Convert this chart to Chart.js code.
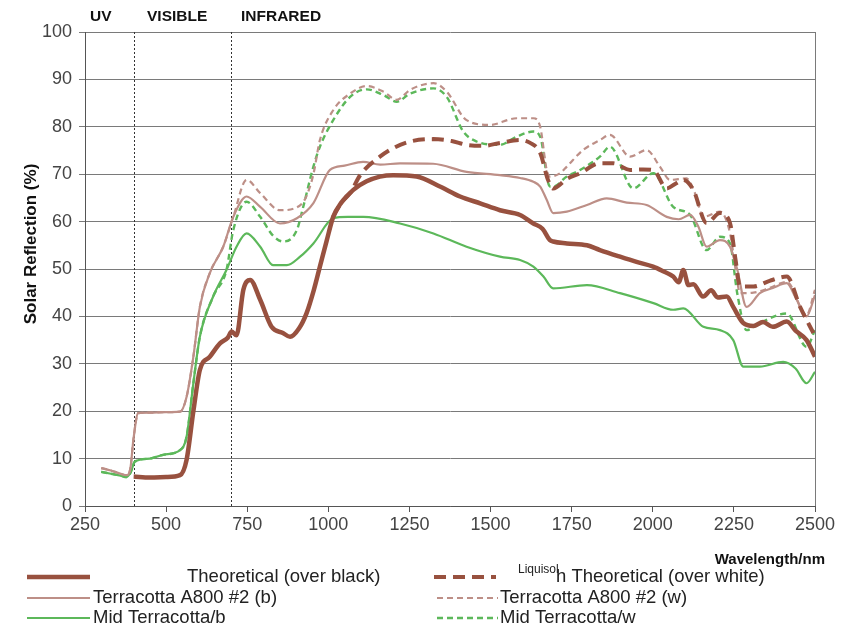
<!DOCTYPE html>
<html lang="en">
<head>
<meta charset="UTF-8">
<title>Solar Reflection</title>
<script src="https://cdn.jsdelivr.net/npm/chart.js"></script>
<style>
  body { margin: 0; background: #fff; }
  #grafico { display: block; }
</style>
</head>
<body>
<canvas id="grafico" width="843" height="628"></canvas>
<script>
// wavelengths (nm) and reflection (%)
const theoBlackX = [400,450,500,543,563,584,604,635,666,690,702,717,738,759,790,825,860,882,910,933,955,974,995,1015,1040,1077,1118,1159,1200,1272,1344,1406,1470,1529,1591,1632,1660,1683,1693,1735,1797,1837,1899,1950,2001,2030,2063,2080,2094,2110,2125,2155,2180,2200,2228,2248,2279,2310,2340,2370,2413,2440,2474,2500];
const theoBlackY = [6.2,6,6.1,6.5,9.7,20,28.7,31.5,34.3,35.5,36.8,36,45.6,47.7,43.5,37.8,36.5,35.7,37.5,40.7,45.5,50.5,56,61,64,66.7,68.5,69.5,69.8,69.5,67.4,65.3,63.8,62.4,61.4,59.6,58.5,56.1,55.8,55.4,55,54,52.6,51.5,50.5,49.6,48.4,47.2,49.8,46.6,46.8,44.2,45.5,44,44.2,42,38.6,38,38.8,37.8,38.9,37,35,31.5];

const theoWhiteX = [1015,1040,1067,1100,1159,1200,1252,1323,1380,1426,1480,1529,1591,1622,1653,1677,1693,1735,1776,1837,1878,1930,1970,2001,2043,2070,2094,2125,2166,2207,2238,2255,2269,2310,2360,2413,2454,2495];
const theoWhiteY = [61,64,66,70,73.7,75.5,76.9,77.4,77,76.2,76,76.6,77.2,76.6,74.5,68.8,67,69,70.2,72.3,72.3,70.9,71,70.9,67,68,68.8,66.7,59.7,61.8,59.7,52,46.3,46.3,47.5,48.4,42,36.5];

const a800bX = [300,330,360,378,390,399,414,450,500,543,563,584,604,635,676,707,748,790,851,903,954,1005,1050,1107,1160,1221,1323,1426,1529,1591,1632,1653,1673,1693,1735,1797,1858,1920,1981,2043,2080,2115,2140,2166,2207,2238,2260,2289,2330,2370,2413,2440,2474,2500];
const a800bY = [8,7.5,6.8,6.5,8,13.9,19.6,19.7,19.8,19.9,23,31.5,42,49.2,54.7,61,65.3,63.1,59.6,60.7,63.9,70.9,71.8,72.6,72,72.3,72.2,70.5,69.8,69.2,68.4,67.4,64.6,61.8,62.1,63.5,64.9,64,63.5,61,60.5,61.4,59,54.7,56.1,54.7,50,42,44.9,46,47,44,40,44.5];

const a800wX = [300,330,360,378,390,399,414,450,500,543,563,584,604,635,676,707,748,790,851,903,930,954,974,1015,1067,1118,1170,1211,1252,1324,1365,1426,1498,1580,1632,1653,1673,1683,1714,1735,1785,1837,1868,1930,1981,2022,2053,2104,2130,2156,2207,2238,2255,2269,2310,2360,2413,2474,2500];
const a800wY = [8,7.5,6.8,6.5,8,13.9,19.6,19.7,19.8,19.9,23,31.5,42,49.2,54.7,61,68.8,66,62.4,63,65,70,77.2,83.5,87,88.6,87.4,85.7,87.8,89.2,87.4,81.4,80.4,81.8,81.8,80,70.9,69.5,70.2,71.6,75.1,77.2,78.3,73.7,75.1,71.6,68.8,69.1,66,61,62.1,57.6,50,44.9,45,46,47.3,40.3,45.6];

const midbX = [300,330,360,378,390,404,450,491,543,563,584,604,645,686,717,748,790,830,872,913,954,1015,1060,1108,1221,1324,1426,1529,1591,1632,1663,1693,1797,1899,2002,2063,2094,2156,2207,2248,2279,2330,2402,2440,2474,2500];
const midbY = [7.2,6.8,6.4,6.1,7,9.4,10,10.8,11.8,14.6,25.9,35.7,44.2,49.8,54.7,57.5,54.7,50.8,50.8,52.6,55.4,60.7,61,61,59.6,57.5,54.7,52.6,51.9,50.5,48.4,45.9,46.6,44.9,42.8,41.4,41.7,37.8,37.1,35,29.4,29.4,30.4,29,25.9,28.3];

const midwX = [300,330,360,378,390,404,450,491,543,563,584,604,645,686,707,748,790,830,861,903,920,954,974,1015,1067,1118,1170,1211,1252,1324,1365,1416,1457,1529,1580,1632,1653,1683,1693,1735,1776,1837,1868,1940,2002,2063,2115,2166,2207,2238,2260,2289,2330,2413,2474,2500];
const midwY = [7.2,6.8,6.4,6.1,7,9.4,10,10.8,11.8,14.6,25.9,35.7,44.2,49.8,58.2,64.2,61,57,55.8,58.2,62.4,71.6,75.8,81.4,86.3,87.9,86.7,85.3,87,88.1,86.3,79,76.9,76.2,77.9,79,77.9,67.4,67.4,69.5,70.9,73.7,75.8,67,70.2,63.1,61.4,54,56.8,55.4,45,37.1,38.6,40.6,33.6,37.1];

const xTicks = [250,500,750,1000,1250,1500,1750,2000,2250,2500];
const regionLabels = ['UV', 'VISIBLE', 'INFRARED'];
const regionBounds = [400, 700];

function pontos(xs, ys) {
    return xs.map(function (x, i) { return { x: x, y: ys[i] }; });
}

const marrom = '#98513f';
const rosa = '#bd8f87';
const verde = '#5cb85a';
const fonte = '"Liberation Sans", Arial, sans-serif';

const extras = {
    id: 'extras',
    beforeDatasetsDraw(chart) {
        const ctx = chart.ctx;
        const a = chart.chartArea;
        const x = chart.scales.x;
        ctx.save();
        ctx.strokeStyle = '#333';
        ctx.lineWidth = 1;
        ctx.setLineDash([2, 2]);
        regionBounds.forEach(function (b) {
            const px = Math.round(x.getPixelForValue(b)) + 0.5;
            ctx.beginPath();
            ctx.moveTo(px, a.top);
            ctx.lineTo(px, a.bottom);
            ctx.stroke();
        });
        ctx.setLineDash([]);
        ctx.strokeStyle = '#7a7a7a';
        ctx.beginPath();
        ctx.moveTo(a.right + 0.5, a.top);
        ctx.lineTo(a.right + 0.5, a.bottom);
        ctx.stroke();
        ctx.restore();
    },
    afterDraw(chart) {
        const ctx = chart.ctx;
        ctx.save();
        ctx.fillStyle = '#111';
        ctx.textBaseline = 'middle';
        ctx.font = 'bold 15.5px ' + fonte;
        ctx.textAlign = 'left';
        ctx.fillText(regionLabels[0], 90, 17);
        ctx.fillText(regionLabels[1], 147, 17);
        ctx.fillText(regionLabels[2], 241, 17);

        ctx.font = 'bold 15px ' + fonte;
        ctx.textAlign = 'right';
        ctx.fillText('Wavelength/nm', 825, 560);

        ctx.save();
        ctx.translate(31, 244);
        ctx.rotate(-Math.PI / 2);
        ctx.textAlign = 'center';
        ctx.font = 'bold 17px ' + fonte;
        ctx.fillText('Solar Reflection (%)', 0, 0);
        ctx.restore();

        // legenda
        const ds = chart.data.datasets;
        const linhas = [
            { i: 0, x1: 27, x2: 90, y: 577, tx: 187, txt: 'Theoretical (over black)' },
            { i: 1, x1: 434, x2: 496, y: 577, tx: 556, txt: 'h Theoretical (over white)' },
            { i: 2, x1: 27, x2: 90, y: 598, tx: 93, txt: 'Terracotta A800 #2 (b)' },
            { i: 3, x1: 437, x2: 498, y: 598, tx: 500, txt: 'Terracotta A800 #2 (w)' },
            { i: 4, x1: 27, x2: 90, y: 618, tx: 93, txt: 'Mid Terracotta/b' },
            { i: 5, x1: 437, x2: 498, y: 618, tx: 500, txt: 'Mid Terracotta/w' }
        ];
        linhas.forEach(function (l) {
            const d = ds[l.i];
            ctx.strokeStyle = d.borderColor;
            ctx.lineWidth = d.borderWidth;
            ctx.setLineDash(d.borderDash || []);
            ctx.beginPath();
            ctx.moveTo(l.x1, l.y);
            ctx.lineTo(l.x2, l.y);
            ctx.stroke();
            ctx.setLineDash([]);
            ctx.fillStyle = '#222';
            ctx.textAlign = 'left';
            ctx.font = '18.5px ' + fonte;
            ctx.fillText(l.txt, l.tx, l.y);
        });
        ctx.font = '12px ' + fonte;
        ctx.fillText('Liquisol', 518, 570);
        ctx.restore();
    }
};

const ctx = document.getElementById('grafico').getContext('2d');
new Chart(ctx, {
    type: 'line',
    data: {
        datasets: [
            { label: 'Theoretical (over black)', data: pontos(theoBlackX, theoBlackY), borderColor: marrom, borderWidth: 4.5 },
            { label: 'Liquisol Theoretical (over white)', data: pontos(theoWhiteX, theoWhiteY), borderColor: marrom, borderWidth: 4, borderDash: [12, 7] },
            { label: 'Terracotta A800 #2 (b)', data: pontos(a800bX, a800bY), borderColor: rosa, borderWidth: 2.2 },
            { label: 'Terracotta A800 #2 (w)', data: pontos(a800wX, a800wY), borderColor: rosa, borderWidth: 2.2, borderDash: [6, 4] },
            { label: 'Mid Terracotta/b', data: pontos(midbX, midbY), borderColor: verde, borderWidth: 2.2 },
            { label: 'Mid Terracotta/w', data: pontos(midwX, midwY), borderColor: verde, borderWidth: 2.4, borderDash: [6, 4] }
        ]
    },
    options: {
        responsive: false,
        animation: false,
        devicePixelRatio: 1,
        layout: { padding: { top: 32, right: 28, left: 0, bottom: 0 } },
        elements: {
            point: { radius: 0 },
            line: { cubicInterpolationMode: 'monotone', fill: false }
        },
        plugins: {
            legend: { display: false },
            tooltip: { enabled: false }
        },
        scales: {
            x: {
                type: 'linear',
                min: 250,
                max: 2500,
                afterFit: function (s) { s.height = 122; },
                afterBuildTicks: function (s) { s.ticks = xTicks.map(function (v) { return { value: v }; }); },
                grid: { drawOnChartArea: false, drawTicks: true, tickLength: 6, color: '#555' },
                border: { color: '#555' },
                ticks: {
                    color: '#444',
                    font: { size: 18, family: fonte },
                    padding: 2,
                    maxRotation: 0,
                    callback: function (v) { return String(v); }
                }
            },
            y: {
                min: 0,
                max: 100,
                afterFit: function (s) { s.width = 85; },
                grid: { color: '#7a7a7a', tickLength: 6 },
                border: { color: '#555' },
                ticks: { stepSize: 10, color: '#444', font: { size: 18, family: fonte }, padding: 7 }
            }
        }
    },
    plugins: [extras]
});
</script>
</body>
</html>
